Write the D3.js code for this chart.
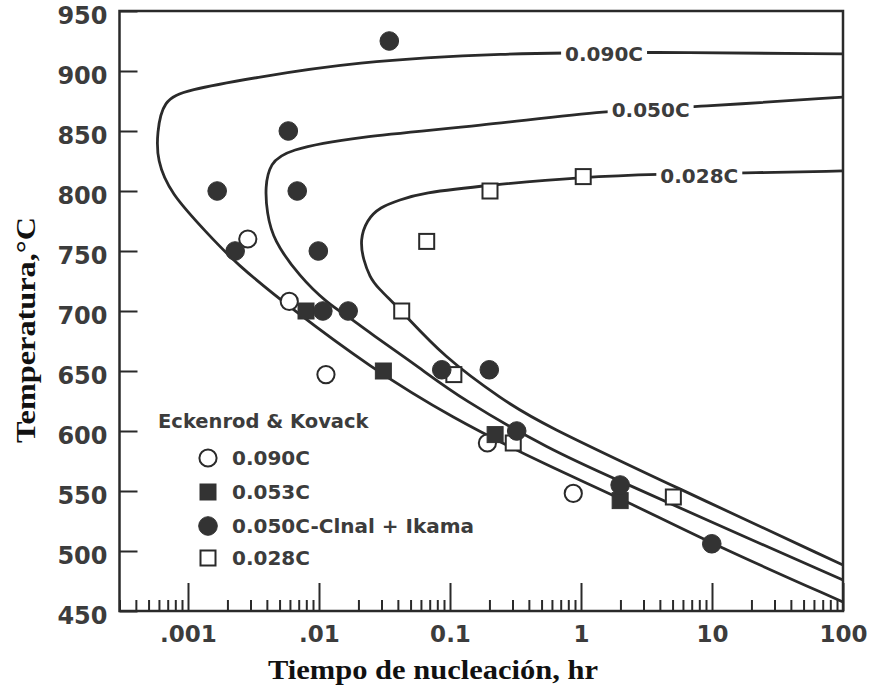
<!DOCTYPE html>
<html><head><meta charset="utf-8">
<script src="https://cdn.jsdelivr.net/npm/d3@7/dist/d3.min.js"></script>
<style>html,body{margin:0;padding:0;background:#fff}</style>
</head><body>
<svg id="chart" width="870" height="689"></svg>
<script>
// ---- data ----
const majorTicks = [0.001, 0.01, 0.1, 1, 10, 100];
const majorTickLabels = [".001", ".01", "0.1", "1", "10", "100"];
const tempTicks = [450, 500, 550, 600, 650, 700, 750, 800, 850, 900, 950];

const curveNames = ["0.090C", "0.050C", "0.028C"];
const curveLabelTime = [1.5, 3.4, 8.0];
const curveLabelTemp = [914, 868, 813];

// [time hr, temperature C] along each curve
const curve090 = [[100,914.2],[3.36,915.8],[0.241,915],[0.0182,907.5],[0.00313,894.2],[0.00098,884.2],
  [0.000644,875.8],[0.00058,848.3],[0.00058,825.8],[0.00073,798.3],[0.0014,765],[0.00229,740],
  [0.00634,700.8],[0.0245,653.3],[0.1,611.7],[0.58,570],[1.99,544.2],[10,505.8],[100,457.5]];
const curve050 = [[100,878.3],[7.67,870],[1.66,867.5],[0.169,854.2],[0.0182,845],[0.0057,834.2],
  [0.00423,823.3],[0.00387,803.3],[0.00401,781.7],[0.00446,759.2],[0.00716,728.3],[0.0115,706.7],
  [0.01726,694.2],[0.0245,681.7],[0.059,652.5],[0.119,627.5],[0.58,584.2],[1.99,558.3],[8.09,528.3],[100,475.8]];
const curve028 = [[100,816.7],[17.3,815],[3.8,814.2],[1.035,811.7],[0.202,805],[0.059,798.3],
  [0.0415,792.5],[0.0292,786.7],[0.0231,775.8],[0.02056,759.2],[0.0218,742.5],[0.0245,728.3],
  [0.0275,720.3],[0.0428,700],[0.0889,661.9],[0.254,625.8],[0.486,606.7],[5.04,554.2],[100,488.3]];

const openCircle090 = [[0.00286,760],[0.00593,708],[0.0113,647],[0.193,590],[0.873,548]];
const blackSquare053 = [[0.00796,700],[0.031,650],[0.221,597],[1.99,542]];
const blackCircle050 = [[0.0344,925],[0.00583,850],[0.00167,800],[0.00682,800],[0.00229,750],
  [0.00988,750],[0.0107,700],[0.0167,700],[0.0865,651],[0.1995,651],[0.323,600],[1.99,555],[9.96,506]];
const openSquare028 = [[0.202,800],[1.04,812],[0.0664,758],[0.0428,700],[0.107,647],[0.304,590],[5.07,545]];

const legendTitle = "Eckenrod & Kovack";
const legendLabels = ["0.090C", "0.053C", "0.050C-Clnal + Ikama", "0.028C"];
const xTitle = "Tiempo de nucleación, hr";
const yTitle = "Temperatura,°C";

// ---- drawing ----
const svg = d3.select("#chart");
const INK = "#2a2a2a", TXT = "#3c3c3c";
const SANS = "'DejaVu Sans', sans-serif", SERIF = "'Liberation Serif', 'Times New Roman', serif";

const x = d3.scaleLog().domain([0.0003, 100]).range([119.5, 843]);
const y = d3.scaleLinear().domain([450, 950]).range([611, 11]);

// minor ticks
const minor = x.ticks().filter(v => !majorTicks.some(m => Math.abs(m - v) / m < 1e-6));
const gMinor = svg.append("g").attr("transform", "translate(0,611)")
  .call(d3.axisBottom(x).tickValues(minor).tickSize(-11).tickFormat(""));
const gMajor = svg.append("g").attr("transform", "translate(0,611)")
  .call(d3.axisBottom(x).tickValues(majorTicks).tickSize(-28).tickPadding(0)
    .tickFormat((d, i) => majorTickLabels[i]));
const gY = svg.append("g").attr("transform", "translate(119.5,0)")
  .call(d3.axisLeft(y).tickValues(tempTicks).tickSize(-18).tickPadding(0).tickFormat(d3.format("d")));
[gMinor, gMajor, gY].forEach(g => {
  g.select(".domain").remove();
  g.selectAll(".tick line").attr("stroke", INK).attr("stroke-width", 2);
});
gMajor.selectAll(".tick text").attr("y", 31).attr("dy", 0)
  .attr("font-family", SANS).attr("font-weight", "bold").attr("font-size", 23).attr("fill", TXT);
gY.selectAll(".tick text").attr("x", -12).attr("dy", "0.52em")
  .attr("font-family", SANS).attr("font-weight", "bold").attr("font-size", 24).attr("fill", TXT);

// frame
svg.append("rect").attr("x", 119.5).attr("y", 11).attr("width", 843 - 119.5).attr("height", 600)
  .attr("fill", "none").attr("stroke", INK).attr("stroke-width", 2.5);

// curves
const line = d3.line().x(d => x(d[0])).y(d => y(d[1])).curve(d3.curveBasis);
const curves = [curve090, curve050, curve028];
const plot = svg.append("g");
plot.append("clipPath").attr("id", "clip").append("rect")
  .attr("x", 119.5).attr("y", 11).attr("width", 843 - 119.5).attr("height", 600);
plot.selectAll("path.curve").data(curves).join("path").attr("class", "curve")
  .attr("clip-path", "url(#clip)")
  .attr("d", line).attr("fill", "none").attr("stroke", INK).attr("stroke-width", 2.8);

// curve labels with white gap
curveNames.forEach((name, i) => {
  const g = plot.append("g");
  const t = g.append("text").attr("x", x(curveLabelTime[i])).attr("y", y(curveLabelTemp[i]))
    .attr("dy", "0.36em").attr("text-anchor", "middle")
    .attr("font-family", SANS).attr("font-weight", "bold").attr("font-size", 20).attr("fill", TXT)
    .text(name);
  const b = t.node().getBBox();
  g.insert("rect", "text").attr("x", b.x - 4).attr("y", b.y + 2).attr("width", b.width + 8)
    .attr("height", b.height - 4).attr("fill", "#fff");
});

// markers
function circles(data, filled, g, cx, cy) {
  g.selectAll(null).data(data).join("circle")
    .attr("cx", cx).attr("cy", cy).attr("r", filled ? 9.3 : 8.6)
    .attr("fill", filled ? "#333" : "#fff").attr("stroke", filled ? "#333" : INK)
    .attr("stroke-width", filled ? 1 : 2);
}
function squares(data, filled, g, cx, cy) {
  const s = filled ? 16 : 15;
  g.selectAll(null).data(data).join("rect")
    .attr("x", d => cx(d) - s / 2).attr("y", d => cy(d) - s / 2).attr("width", s).attr("height", s)
    .attr("fill", filled ? "#333" : "#fff").attr("stroke", filled ? "#333" : INK)
    .attr("stroke-width", filled ? 1 : 2);
}
const mg = svg.append("g");
const px = d => x(d[0]), py = d => y(d[1]);
circles(openCircle090, false, mg.append("g"), px, py);
squares(openSquare028, false, mg.append("g"), px, py);
squares(blackSquare053, true, mg.append("g"), px, py);
circles(blackCircle050, true, mg.append("g"), px, py);

// legend
const lg = svg.append("g");
lg.append("text").attr("x", 158).attr("y", 428).text(legendTitle)
  .attr("font-family", SANS).attr("font-weight", "bold").attr("font-size", 19.5).attr("fill", TXT);
const rowY = [458, 492, 526, 558];
const lx = () => 208;
circles([0], false, lg.append("g"), lx, () => rowY[0]);
squares([1], true, lg.append("g"), lx, () => rowY[1]);
circles([2], true, lg.append("g"), lx, () => rowY[2]);
squares([3], false, lg.append("g"), lx, () => rowY[3]);
lg.selectAll("text.entry").data(legendLabels).join("text").attr("class", "entry")
  .attr("x", 232).attr("y", (d, i) => rowY[i]).attr("dy", "0.36em").text(d => d)
  .attr("font-family", SANS).attr("font-weight", "bold").attr("font-size", 20).attr("fill", TXT);

// axis titles
svg.append("text").attr("x", 433).attr("y", 679).attr("text-anchor", "middle").text(xTitle)
  .attr("textLength", 330).attr("lengthAdjust", "spacingAndGlyphs")
  .attr("font-family", SERIF).attr("font-weight", "bold").attr("font-size", 28).attr("fill", "#111");
svg.append("text").attr("transform", "translate(35,330) rotate(-90)").attr("text-anchor", "middle")
  .text(yTitle).attr("textLength", 226).attr("lengthAdjust", "spacingAndGlyphs")
  .attr("font-family", SERIF).attr("font-weight", "bold").attr("font-size", 28).attr("fill", "#111");
</script>
</body></html>
